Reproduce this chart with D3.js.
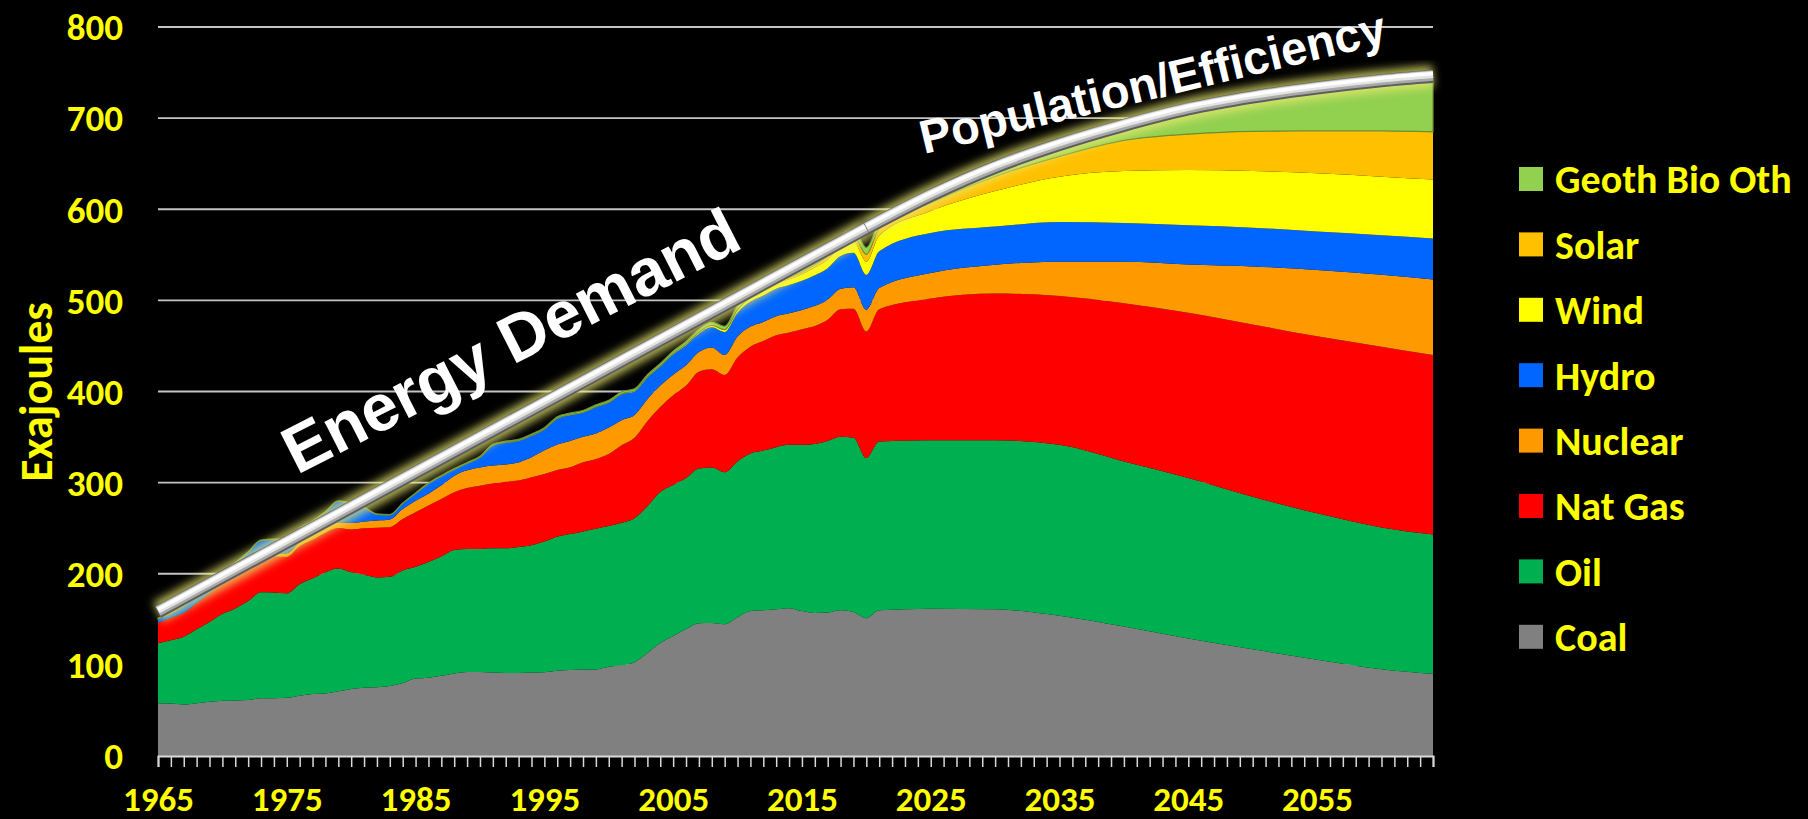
<!DOCTYPE html>
<html>
<head>
<meta charset="utf-8">
<script src="https://cdn.jsdelivr.net/npm/d3@7"></script>
<style>
    html, body { margin: 0; padding: 0; background: #000; overflow: hidden; }
    svg { display: block; }
</style>
</head>
<body>
<svg id="chart"></svg>
<script>
// Years: annual history 1965-2021, then projection points every 5 years
const years = [1965, 1966, 1967, 1968, 1969, 1970, 1971, 1972, 1973, 1974, 1975, 1976, 1977, 1978, 1979,
    1980, 1981, 1982, 1983, 1984, 1985, 1986, 1987, 1988, 1989, 1990, 1991, 1992, 1993, 1994,
    1995, 1996, 1997, 1998, 1999, 2000, 2001, 2002, 2003, 2004, 2005, 2006, 2007, 2008, 2009,
    2010, 2011, 2012, 2013, 2014, 2015, 2016, 2017, 2018, 2019, 2020, 2021,
    2025, 2030, 2035, 2040, 2045, 2050, 2055, 2060, 2064];

// Exajoules per source
const coal = [58, 57.5, 56.5, 58, 59.5, 60.6, 61, 61.5, 63.4, 63.5, 63.8, 66, 68, 68.7, 71,
    73.6, 75, 75.5, 76.8, 80, 85, 86, 88, 90.5, 92.3, 92.3, 91.5, 91, 91, 91.5,
    91.9, 93.5, 94.3, 94.8, 95, 97.9, 99.5, 103, 113, 124, 131.6, 139.4, 145.6, 146, 144.6,
    152.3, 159, 160, 161, 162.2, 159, 157, 157.5, 160, 158, 151.3, 160,
    161.7, 161, 153.9, 142, 129, 117.1, 105.7, 95.3, 90.2];
const oil = [65.6, 69.5, 74.4, 81, 87.5, 95.4, 101, 108.5, 116.3, 115.8, 114.7, 122.6, 126.7, 132.9, 134.7,
    128, 123.8, 120.5, 119.9, 123.7, 122.7, 127, 131, 135.5, 134.9, 134.9, 136.5, 137, 138.3, 139.8,
    143.5, 147.2, 149.2, 151.7, 154.5, 154.4, 156.5, 158, 161, 165.6, 165.8, 165.6, 169.9, 170.6, 166.8,
    171, 173, 175.2, 177.9, 179.3, 182.5, 185.5, 188.1, 190.3, 191.2, 175.7, 185,
    184.9, 185.6, 187.6, 181.3, 176.2, 167.4, 160.6, 155.5, 152.8];
const natGas = [22.4, 24.5, 26, 28.5, 31, 33.5, 35.5, 37.5, 39, 39.5, 40, 41.5, 42.5, 43.5, 44.5,
    47, 51, 54.4, 54.3, 56.3, 59.8, 61.8, 63, 63.4, 66.8, 69.5, 71.3, 73, 72.9, 74.5,
    74.1, 73.2, 73.3, 75.8, 76.5, 79.1, 85, 88.2, 93.4, 93.4, 98.6, 101.2, 106.3, 107.8, 106.7,
    114, 117.2, 120.2, 122.8, 123.3, 126.9, 129.5, 133.2, 139.9, 141.5, 138.8, 145.2,
    155.4, 160.9, 163.2, 173.6, 181.3, 189.1, 194.3, 198.4, 197];
const nuclear = [0.2, 0.3, 0.4, 0.5, 0.6, 0.8, 1.2, 1.6, 2.2, 3, 4, 4.5, 5, 5.5, 6,
    7, 7.5, 8, 8.5, 11, 12.5, 13, 15, 18, 19.5, 20, 19.5, 19, 20, 22,
    26, 28, 29, 28, 28, 29, 27.5, 25, 24, 23.5, 22.5, 22.5, 21.5, 24, 22,
    23, 22, 21, 21, 21, 21, 22, 22, 22.5, 23.8, 24, 23.3,
    28, 31.5, 37.8, 45.6, 52.9, 63.7, 72.6, 78.8, 82.8];
const hydro = [4.6, 5, 7.5, 9.5, 10.5, 11.5, 13, 14.6, 15.8, 15.9, 15.2, 15, 15.4, 17, 23.4,
    21.3, 15.2, 6.8, 5, 6, 8, 11, 10, 7, 7.5, 11, 22, 24, 23.7, 23.8,
    23, 28.5, 28.5, 26.6, 29, 27.4, 28.5, 25.9, 24, 21, 22, 22, 20, 22, 25,
    26, 27.5, 29, 30, 31, 32, 33.5, 34.5, 36, 37.7, 38.2, 40.3,
    44, 42, 43.5, 42.5, 43, 42.5, 42.4, 43.5, 45.1];
const wind = [0, 0, 0, 0, 0, 0, 0, 0, 0, 0, 0, 0, 0, 0, 0,
    0, 0, 0, 0, 0, 0, 0, 0, 0, 0, 0.05, 0.05, 0.05, 0.05, 0.05,
    0.1, 0.1, 0.1, 0.2, 0.2, 0.3, 0.4, 0.5, 0.6, 0.8, 1, 1.2, 1.6, 2, 2.5,
    3.1, 4, 4.9, 5.8, 6.5, 7.4, 8.5, 9.6, 10.9, 12.7, 14.6, 17,
    24, 39, 49.8, 57, 60.6, 62.2, 63.8, 64.3, 64.7];
const solar = [0, 0, 0, 0, 0, 0, 0, 0, 0, 0, 0, 0, 0, 0, 0,
    0, 0, 0, 0, 0, 0, 0, 0, 0, 0, 0, 0, 0, 0, 0,
    0, 0, 0, 0, 0, 0, 0, 0, 0, 0, 0, 0.05, 0.07, 0.1, 0.2,
    0.3, 0.6, 0.9, 1.3, 1.8, 2.3, 3, 3.9, 5, 6.1, 7.9, 8,
    9, 16, 22.2, 33.6, 39.4, 43.5, 46.6, 50.2, 52.4];
const geothBioOth = [0.2, 0.2, 0.2, 0.2, 0.2, 0.3, 0.3, 0.3, 0.3, 0.3, 0.3, 0.4, 0.4, 0.4, 0.4,
    0.5, 0.5, 0.5, 0.5, 0.6, 0.7, 0.8, 0.9, 1, 1.1, 1.2, 1.3, 1.4, 1.5, 1.6,
    1.7, 1.8, 1.9, 2, 2.1, 2.2, 2.3, 2.4, 2.5, 2.6, 2.8, 3, 3.2, 3.5, 3.8,
    4.3, 4.6, 4.9, 5.2, 5.5, 5.8, 5.9, 6, 6.2, 6.3, 7.5, 5,
    5, 4, 7, 10.4, 22.6, 32.5, 42, 49, 54];

const seriesNames = ["Coal", "Oil", "Nat Gas", "Nuclear", "Hydro", "Wind", "Solar", "Geoth Bio Oth"];
const seriesColors = ["#808080", "#00b050", "#ff0000", "#ff9900", "#0066ff", "#ffff00", "#ffc000", "#92d050"];

// Hand-drawn demand trend: straight to 2020, then bending over
const demandYears = [1965, 2020, 2025, 2030, 2035, 2040, 2045, 2050, 2055, 2060, 2064];
const demandValues = [158, 579, 615, 646, 671, 692, 710, 723, 733, 741, 746];

const yTicks = [0, 100, 200, 300, 400, 500, 600, 700, 800];
const xLabelYears = [1965, 1975, 1985, 1995, 2005, 2015, 2025, 2035, 2045, 2055];

// Canvas and plot area
const width = 1808;
const height = 819;
const plot = { left: 158, right: 1433, top: 27, bottom: 756 };
const yellow = "#ffff00";
const labelFont = "Calibri, Carlito, Lato, sans-serif";

const svg = d3.select("#chart")
    .attr("width", width)
    .attr("height", height)
    .style("background", "#000");

const x = d3.scaleLinear().domain([1965, 2064]).range([plot.left, plot.right]);
const y = d3.scaleLinear().domain([0, 800]).range([plot.bottom, plot.top]);

// Glow filter for the demand line
const defs = svg.append("defs");
defs.append("filter")
    .attr("id", "glow")
    .attr("x", "-10%").attr("y", "-10%")
    .attr("width", "120%").attr("height", "120%")
    .append("feGaussianBlur")
    .attr("stdDeviation", 4);

// Gridlines
svg.append("g")
    .selectAll("line")
    .data(yTicks.filter(d => d > 0))
    .enter().append("line")
    .attr("x1", plot.left)
    .attr("x2", plot.right)
    .attr("y1", d => y(d))
    .attr("y2", d => y(d))
    .attr("stroke", "#c4c4c4")
    .attr("stroke-width", 1.8);

// Stacked areas
const table = years.map((yr, i) => ({
    year: yr,
    "Coal": coal[i],
    "Oil": oil[i],
    "Nat Gas": natGas[i],
    "Nuclear": nuclear[i],
    "Hydro": hydro[i],
    "Wind": wind[i],
    "Solar": solar[i],
    "Geoth Bio Oth": geothBioOth[i]
}));

const stacked = d3.stack().keys(seriesNames)(table);

const area = d3.area()
    .x(d => x(d.data.year))
    .y0(d => y(d[0]))
    .y1(d => y(d[1]))
    .curve(d3.curveMonotoneX);

svg.append("g")
    .selectAll("path")
    .data(stacked)
    .enter().append("path")
    .attr("d", area)
    .attr("fill", (d, i) => seriesColors[i])
    .attr("stroke", (d, i) => i === 7 ? "#6f8f2f" : "none")
    .attr("stroke-width", 1.2);

// X axis with a tick every year, label every ten
const xAxis = d3.axisBottom(x)
    .tickValues(d3.range(1965, 2065))
    .tickSize(11)
    .tickFormat(d => xLabelYears.includes(d) ? d : "");

const xg = svg.append("g")
    .attr("transform", `translate(0,${plot.bottom})`)
    .call(xAxis);
xg.select(".domain").attr("stroke", "#d9d9d9").attr("stroke-width", 2);
xg.selectAll(".tick line").attr("stroke", "#d9d9d9").attr("stroke-width", 1.5);
xg.selectAll(".tick text")
    .attr("y", 55)
    .attr("dy", 0)
    .attr("fill", yellow)
    .style("font-family", labelFont)
    .style("font-weight", "bold")
    .style("font-size", "35px");

// Y tick labels
svg.append("g")
    .selectAll("text")
    .data(yTicks)
    .enter().append("text")
    .attr("x", 123)
    .attr("y", d => y(d))
    .attr("dy", "0.36em")
    .attr("text-anchor", "end")
    .attr("fill", yellow)
    .style("font-family", labelFont)
    .style("font-weight", "bold")
    .style("font-size", "37px")
    .text(d => d);

svg.append("text")
    .attr("transform", "translate(36,392) rotate(-90)")
    .attr("text-anchor", "middle")
    .attr("dy", "0.35em")
    .attr("fill", yellow)
    .style("font-family", labelFont)
    .style("font-weight", "bold")
    .style("font-size", "46px")
    .text("Exajoules");

// Demand line: straight part and the bending part
const demandPts = demandYears.map((yr, i) => [x(yr), y(demandValues[i])]);
const straightPath = d3.line().curve(d3.curveLinear)(demandPts.slice(0, 2));
const bendPath = d3.line().curve(d3.curveMonotoneX)(demandPts.slice(1));

const lineG = svg.append("g");
[straightPath, bendPath].forEach(p => {
    lineG.append("path").attr("d", p).attr("fill", "none")
        .attr("stroke", "#eaea70").attr("stroke-opacity", 0.75)
        .attr("stroke-width", 22).attr("filter", "url(#glow)");
});
[straightPath, bendPath].forEach(p => {
    lineG.append("path").attr("d", p).attr("fill", "none")
        .attr("stroke", "#5e5e5e").attr("stroke-width", 13);
    lineG.append("path").attr("d", p).attr("fill", "none")
        .attr("stroke", "#a9a9a9").attr("stroke-width", 10.5)
        .attr("transform", "translate(0,-0.8)");
    lineG.append("path").attr("d", p).attr("fill", "none")
        .attr("stroke", "#e4e4e4").attr("stroke-width", 7)
        .attr("transform", "translate(0,-1.8)");
    lineG.append("path").attr("d", p).attr("fill", "none")
        .attr("stroke", "#ffffff").attr("stroke-width", 3.5)
        .attr("transform", "translate(0,-2.6)");
});

// Annotations
svg.append("text")
    .attr("transform", "translate(297,475) rotate(-27)")
    .attr("fill", "#fff")
    .style("font-family", "'Liberation Sans', Arial, sans-serif")
    .style("font-weight", "bold")
    .style("font-size", "66px")
    .text("Energy Demand");

svg.append("text")
    .attr("transform", "translate(924,154) rotate(-13.5)")
    .attr("fill", "#fff")
    .style("font-family", "'Liberation Sans', Arial, sans-serif")
    .style("font-weight", "bold")
    .style("font-size", "47px")
    .text("Population/Efficiency");

// Legend, top entry is the top of the stack
const legendItems = seriesNames.map((name, i) => ({ name, color: seriesColors[i] })).reverse();
const legend = svg.append("g")
    .selectAll("g")
    .data(legendItems)
    .enter().append("g")
    .attr("transform", (d, i) => `translate(1519,${179 + i * 65.4})`);

legend.append("rect")
    .attr("x", 0)
    .attr("y", -12)
    .attr("width", 24)
    .attr("height", 24)
    .attr("fill", d => d.color);

legend.append("text")
    .attr("x", 36)
    .attr("dy", "0.36em")
    .attr("fill", yellow)
    .style("font-family", labelFont)
    .style("font-weight", "bold")
    .style("font-size", "40px")
    .text(d => d.name);
</script>
</body>
</html>
